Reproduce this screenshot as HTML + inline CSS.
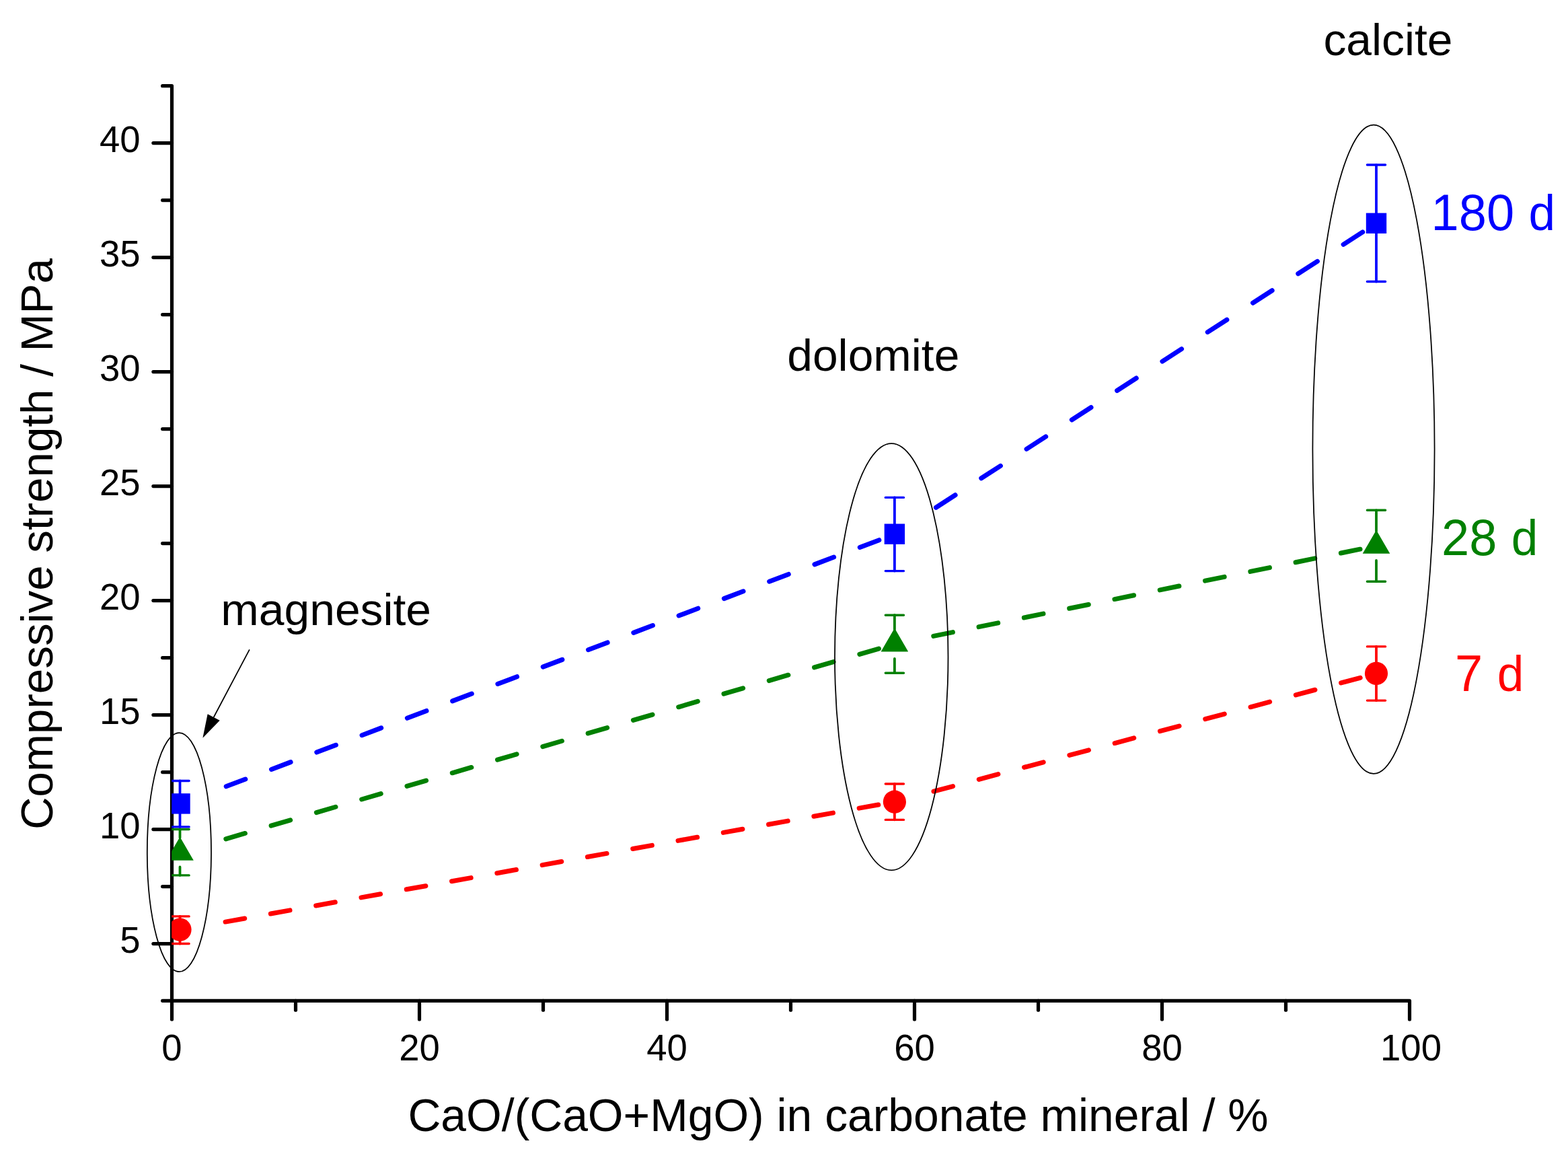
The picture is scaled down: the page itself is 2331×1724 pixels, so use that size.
<!DOCTYPE html>
<html lang="en">
<head>
<meta charset="utf-8">
<title>Compressive strength vs CaO/(CaO+MgO) in carbonate mineral</title>
<style>
html,body{margin:0;padding:0;background:#fff;}
body{width:2331px;height:1724px;overflow:hidden;font-family:'Liberation Sans', Arial, Helvetica, sans-serif;}
svg{display:block;}
</style>
</head>
<body>
<svg width="2331" height="1724" viewBox="0 0 2331 1724" font-family="'Liberation Sans', Arial, Helvetica, sans-serif">
<defs><clipPath id="plot"><rect x="255.20" y="0" width="2331" height="1724"/></clipPath></defs>
<rect width="2331" height="1724" fill="#ffffff"/>
<g stroke="#000" stroke-width="5.2" fill="none" stroke-linecap="round" stroke-linejoin="round">
<path d="M241.60 127.70 H255.50 V1514.90"/>
<path d="M241.60 1487.30 H2095.50 V1514.90"/>
<path d="M227.90 1402.55 H255.50"/>
<path d="M241.60 1317.55 H255.50"/>
<path d="M227.90 1232.55 H255.50"/>
<path d="M241.60 1147.55 H255.50"/>
<path d="M227.90 1062.55 H255.50"/>
<path d="M241.60 977.55 H255.50"/>
<path d="M227.90 892.55 H255.50"/>
<path d="M241.60 807.55 H255.50"/>
<path d="M227.90 722.55 H255.50"/>
<path d="M241.60 637.55 H255.50"/>
<path d="M227.90 552.55 H255.50"/>
<path d="M241.60 467.55 H255.50"/>
<path d="M227.90 382.55 H255.50"/>
<path d="M241.60 297.55 H255.50"/>
<path d="M227.90 212.55 H255.50"/>
<path d="M439.50 1487.30 V1501.20"/>
<path d="M623.50 1487.30 V1514.90"/>
<path d="M807.50 1487.30 V1501.20"/>
<path d="M991.50 1487.30 V1514.90"/>
<path d="M1175.50 1487.30 V1501.20"/>
<path d="M1359.50 1487.30 V1514.90"/>
<path d="M1543.50 1487.30 V1501.20"/>
<path d="M1727.50 1487.30 V1514.90"/>
<path d="M1911.50 1487.30 V1501.20"/>
</g>
<text transform="translate(208.60 1415.85) scale(1 1.03)" font-size="54.5" text-anchor="end" fill="#000">5</text>
<text transform="translate(208.60 1245.85) scale(1 1.03)" font-size="54.5" text-anchor="end" fill="#000">10</text>
<text transform="translate(208.60 1075.85) scale(1 1.03)" font-size="54.5" text-anchor="end" fill="#000">15</text>
<text transform="translate(208.60 905.85) scale(1 1.03)" font-size="54.5" text-anchor="end" fill="#000">20</text>
<text transform="translate(208.60 735.85) scale(1 1.03)" font-size="54.5" text-anchor="end" fill="#000">25</text>
<text transform="translate(208.60 565.85) scale(1 1.03)" font-size="54.5" text-anchor="end" fill="#000">30</text>
<text transform="translate(208.60 395.85) scale(1 1.03)" font-size="54.5" text-anchor="end" fill="#000">35</text>
<text transform="translate(208.60 225.85) scale(1 1.03)" font-size="54.5" text-anchor="end" fill="#000">40</text>
<text transform="translate(255.50 1576.00) scale(1 1.03)" font-size="54.5" text-anchor="middle" fill="#000">0</text>
<text transform="translate(623.50 1576.00) scale(1 1.03)" font-size="54.5" text-anchor="middle" fill="#000">20</text>
<text transform="translate(991.50 1576.00) scale(1 1.03)" font-size="54.5" text-anchor="middle" fill="#000">40</text>
<text transform="translate(1359.50 1576.00) scale(1 1.03)" font-size="54.5" text-anchor="middle" fill="#000">60</text>
<text transform="translate(1727.50 1576.00) scale(1 1.03)" font-size="54.5" text-anchor="middle" fill="#000">80</text>
<text transform="translate(2097.50 1576.00) scale(1 1.03)" font-size="54.5" text-anchor="middle" fill="#000">100</text>
<text x="1246" y="1680.5" font-size="67.8" text-anchor="middle" fill="#000">CaO/(CaO+MgO) in carbonate mineral / %</text>
<text transform="translate(77.8 808.6) rotate(-90)" font-size="67.3" text-anchor="middle" fill="#000">Compressive strength / MPa</text>
<text transform="translate(2063.50 81.90) scale(1 0.98)" font-size="67.8" text-anchor="middle" fill="#000">calcite</text>
<text transform="translate(1298.30 551.30) scale(1 0.98)" font-size="67.8" text-anchor="middle" fill="#000">dolomite</text>
<text transform="translate(484.70 928.60) scale(1 0.98)" font-size="67.8" text-anchor="middle" fill="#000">magnesite</text>
<text transform="translate(2127.60 342.00) scale(1 1.03)" font-size="74.0" fill="#0000ff">180 <tspan font-size="71.13" dx="1">d</tspan></text>
<text transform="translate(2143.00 825.30) scale(1 1.03)" font-size="74.0" fill="#008000">28 <tspan font-size="71.13" dx="1">d</tspan></text>
<text transform="translate(2163.00 1026.90) scale(1 1.03)" font-size="74.0" fill="#ff0000">7 <tspan font-size="71.13" dx="1">d</tspan></text>
<g clip-path="url(#plot)">
<path d="M335.10 1370.08L363.70 1364.95M402.39 1358.01L430.99 1352.88M469.68 1345.95L498.28 1340.82M536.97 1333.88L565.57 1328.75M604.26 1321.82L632.86 1316.69M671.55 1309.75L700.15 1304.62M738.84 1297.68L767.44 1292.56M806.13 1285.62L834.73 1280.49M873.42 1273.55L902.02 1268.42M940.71 1261.49L969.31 1256.36M1008.00 1249.42L1036.60 1244.29M1075.29 1237.35L1103.89 1232.23M1142.58 1225.29L1171.18 1220.16M1209.87 1213.22L1238.47 1208.09M1277.16 1201.16L1305.76 1196.03M1388.00 1176.23L1416.60 1168.61M1455.29 1158.31L1483.89 1150.69M1522.58 1140.39L1551.18 1132.77M1589.87 1122.47L1618.47 1114.85M1657.16 1104.55L1685.76 1096.93M1724.45 1086.63L1753.05 1079.01M1791.74 1068.71L1820.34 1061.09M1859.03 1050.79L1887.63 1043.17M1926.32 1032.87L1954.92 1025.25M1993.61 1014.95L2022.21 1007.34" stroke="#ff0000" stroke-width="7.0" stroke-linecap="round" fill="none"/>
<g stroke="#ff0000" stroke-width="3.8" stroke-linecap="round" fill="none">
<path stroke-width="3.4" d="M253.90 1361.90 H281.10 M253.90 1402.50 H281.10"/>
<path d="M267.50 1361.90 V1372.20 M267.50 1392.20 V1402.50"/>
<path stroke-width="3.4" d="M1316.30 1165.00 H1343.50 M1316.30 1218.40 H1343.50"/>
<path d="M1329.90 1165.00 V1181.70 M1329.90 1201.70 V1218.40"/>
<path stroke-width="3.4" d="M2032.40 960.90 H2059.60 M2032.40 1041.10 H2059.60"/>
<path d="M2046.00 960.90 V991.00 M2046.00 1011.00 V1041.10"/>
</g>
<circle cx="267.50" cy="1381.60" r="17.1" fill="#ff0000"/>
<circle cx="1329.90" cy="1191.70" r="17.1" fill="#ff0000"/>
<circle cx="2046.00" cy="1000.90" r="17.1" fill="#ff0000"/>
<path d="M335.80 1246.80L364.40 1238.47M403.09 1227.20L431.69 1218.87M470.38 1207.60L498.98 1199.26M537.67 1187.99L566.27 1179.66M604.96 1168.39L633.56 1160.06M672.25 1148.79L700.85 1140.46M739.54 1129.18L768.14 1120.85M806.83 1109.58L835.43 1101.25M874.12 1089.98L902.72 1081.65M941.41 1070.38L970.01 1062.04M1008.70 1050.77L1037.30 1042.44M1075.99 1031.17L1104.59 1022.84M1143.28 1011.57L1171.88 1003.23M1210.57 991.96L1239.17 983.63M1277.86 972.36L1306.46 964.03M1387.80 945.40L1416.40 939.58M1455.09 931.69L1483.69 925.87M1522.38 917.98L1550.98 912.16M1589.67 904.27L1618.27 898.45M1656.96 890.56L1685.56 884.74M1724.25 876.85L1752.85 871.03M1791.54 863.14L1820.14 857.32M1858.83 849.43L1887.43 843.61M1926.12 835.72L1954.72 829.90M1993.41 822.01L2022.01 816.19" stroke="#008000" stroke-width="7.0" stroke-linecap="round" fill="none"/>
<g stroke="#008000" stroke-width="3.8" stroke-linecap="round" fill="none">
<path stroke-width="3.4" d="M253.90 1232.50 H281.10 M253.90 1300.90 H281.10"/>
<path d="M267.50 1232.50 V1245.00 M267.50 1288.40 V1300.90"/>
<path stroke-width="3.4" d="M1316.30 914.20 H1343.50 M1316.30 1000.20 H1343.50"/>
<path d="M1329.90 914.20 V935.50 M1329.90 978.90 V1000.20"/>
<path stroke-width="3.4" d="M2032.40 758.30 H2059.60 M2032.40 864.30 H2059.60"/>
<path d="M2046.00 758.30 V789.60 M2046.00 833.00 V864.30"/>
</g>
<path d="M267.50 1243.70 L287.80 1278.80 H247.20 Z" fill="#008000"/>
<path d="M1329.90 933.50 L1350.20 968.60 H1309.60 Z" fill="#008000"/>
<path d="M2046.00 787.70 L2066.30 822.80 H2025.70 Z" fill="#008000"/>
<path d="M336.20 1168.79L364.80 1158.00M403.49 1143.41L432.09 1132.62M470.78 1118.03L499.38 1107.24M538.07 1092.65L566.67 1081.86M605.36 1067.27L633.96 1056.48M672.65 1041.89L701.25 1031.10M739.94 1016.51L768.54 1005.73M807.23 991.13L835.83 980.35M874.52 965.75L903.12 954.97M941.81 940.37L970.41 929.59M1009.10 914.99L1037.70 904.21M1076.39 889.62L1104.99 878.83M1143.68 864.24L1172.28 853.45M1210.97 838.86L1239.57 828.07M1278.26 813.48L1306.86 802.69M1391.50 754.24L1420.10 735.78M1458.79 710.81L1487.39 692.35M1526.08 667.38L1554.68 648.92M1593.37 623.95L1621.97 605.49M1660.66 580.51L1689.26 562.05M1727.95 537.08L1756.55 518.62M1795.24 493.65L1823.84 475.19M1862.53 450.22L1891.13 431.76M1929.82 406.79L1958.42 388.33M1997.11 363.36L2025.71 344.90" stroke="#0000ff" stroke-width="7.0" stroke-linecap="round" fill="none"/>
<g stroke="#0000ff" stroke-width="3.8" stroke-linecap="round" fill="none">
<path stroke-width="3.4" d="M253.90 1160.50 H281.10 M253.90 1228.90 H281.10"/>
<path d="M267.50 1160.50 V1184.70 M267.50 1204.70 V1228.90"/>
<path stroke-width="3.4" d="M1316.30 739.40 H1343.50 M1316.30 848.60 H1343.50"/>
<path d="M1329.90 739.40 V784.00 M1329.90 804.00 V848.60"/>
<path stroke-width="3.4" d="M2032.40 245.05 H2059.60 M2032.40 418.55 H2059.60"/>
<path d="M2046.00 245.05 V321.80 M2046.00 341.80 V418.55"/>
</g>
<rect x="252.30" y="1179.20" width="30.4" height="30.4" fill="#0000ff"/>
<rect x="1314.70" y="778.50" width="30.4" height="30.4" fill="#0000ff"/>
<rect x="2030.80" y="316.60" width="30.4" height="30.4" fill="#0000ff"/>
</g>
<g stroke="#000" stroke-width="1.75" fill="none">
<ellipse cx="266.4" cy="1266.6" rx="47.6" ry="177.6"/>
<ellipse cx="1325.25" cy="976.2" rx="84.25" ry="317.2"/>
<ellipse cx="2042.0" cy="667.8" rx="90.6" ry="482.1"/>
<line x1="370.90" y1="965.30" x2="317.66" y2="1066.03"/>
<path d="M301.40 1096.80 L308.64 1061.27 L326.68 1070.80 Z" fill="#000" stroke="none"/>
</g>
</svg>
</body>
</html>
